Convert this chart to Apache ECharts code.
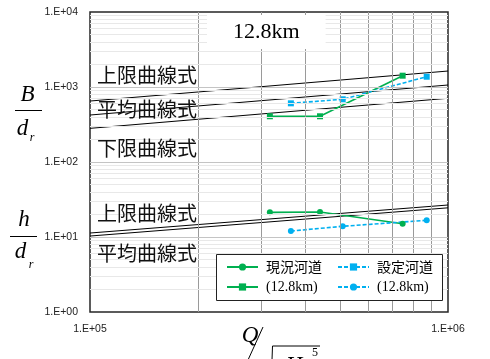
<!DOCTYPE html>
<html><head><meta charset="utf-8">
<script src="https://cdn.jsdelivr.net/npm/echarts@6/dist/echarts.min.js"></script>
<style>html,body{margin:0;padding:0;background:#fff}#c{width:490px;height:359px}</style>
</head><body><div id="c"></div>
<script>
// ---- data ----
const curveX = [1e5, 1e6];
const upperB = [650, 1633];
const meanB  = [423, 1063];
const lowerB = [281, 707];
const upperH = [11.3, 26.7];
const meanH  = [10.3, 24.5];

const curX = [3.18e5, 4.39e5, 7.47e5];
const curB = [407, 407, 1415];
const curH = [21.3, 21.5, 15.0];
const setX = [3.64e5, 5.08e5, 8.72e5];
const setB = [606, 686, 1371];
const setH = [12.0, 13.9, 16.7];

const xTickLabels = {5: '1.E+05', 6: '1.E+06'};
const yTickLabels = ['1.E+00', '1.E+01', '1.E+02', '1.E+03', '1.E+04'];
const minorSteps = [2, 3, 4, 5, 6, 7, 8, 9];
const xDecades = [1e5];
const yDecades = [1, 10, 100, 1000];
const curveLabelTexts = ['上限曲線式', '平均曲線式', '下限曲線式', '上限曲線式', '平均曲線式'];
const legendLabels = {cur_h: '現況河道', set_B: '設定河道', cur_B: '(12.8km)', set_h: '(12.8km)'};
const titleText = '12.8km';

// ---- helpers ----
const zip = (xs, ys) => xs.map((x, i) => [x, ys[i]]);
const GREEN = '#00B050', BLUE = '#00B0F0';

const gridLines = [];
xDecades.forEach(d => minorSteps.forEach(m => gridLines.push({xAxis: d * m, lineStyle: {color: '#9a9a9a', width: 1, type: 'solid'}})));
yDecades.forEach((d, i) => {
  if (i > 0) gridLines.push({yAxis: d, lineStyle: {color: '#c4c4c4', width: 1, type: 'solid'}});
  minorSteps.forEach(m => gridLines.push({yAxis: d * m, lineStyle: {color: '#e8e8e8', width: 1, type: 'solid'}}));
});

const curveSeries = (name, ys) => ({
  name, type: 'line', data: zip(curveX, ys), symbol: 'none', silent: true, z: 3,
  lineStyle: {color: '#000', width: 1}, clip: false
});
const dataSeries = (name, xs, ys, color, sym, dashed) => ({
  name, type: 'line', data: zip(xs, ys), symbol: sym, symbolSize: 6, z: 4,
  itemStyle: {color}, lineStyle: {color, width: 1.6, type: dashed ? [4, 2] : 'solid'}
});

const legendText = {
  formatter: n => legendLabels[n].startsWith('(') ? '{s|' + legendLabels[n] + '}' : '{j|' + legendLabels[n] + '}',
  textStyle: {
    padding: [0, 0, 0, 3],
    rich: {
      j: {fontFamily: 'Noto Sans CJK JP', fontSize: 14, color: '#000', lineHeight: 14},
      s: {fontFamily: 'Liberation Serif', fontSize: 14, color: '#000', lineHeight: 14}
    }
  }
};

const italic = (text, x, y, size) => ({
  type: 'text', x, y, z: 10,
  style: {text, fill: '#000', font: 'italic ' + size + 'px "Liberation Serif"', textAlign: 'center', textVerticalAlign: 'middle'}
});
const hline = (x1, x2, y) => ({type: 'line', z: 10, shape: {x1, y1: y, x2, y2: y}, style: {stroke: '#000', lineWidth: 1}});
const curveLabelY = [75, 109.5, 148, 213, 253];

const chart = echarts.init(document.getElementById('c'));
chart.setOption({
  animation: false,
  backgroundColor: '#fff',
  title: {
    text: titleText, left: 207, top: 15, padding: [6, 26, 6, 26], backgroundColor: '#fff', z: 6,
    textStyle: {fontFamily: 'Liberation Serif', fontSize: 22, fontWeight: 'normal', color: '#000'}
  },
  grid: {left: 90, top: 12, width: 358, height: 300, show: true, borderColor: '#262626', borderWidth: 1.5, backgroundColor: 'transparent'},
  xAxis: {
    type: 'log', logBase: 10, min: 1e5, max: 1e6,
    axisLine: {show: false}, axisTick: {show: false}, splitLine: {show: false},
    axisLabel: {margin: 12, fontSize: 10.5, fontFamily: 'Liberation Sans', color: '#222',
      formatter: v => xTickLabels[Math.round(Math.log10(v))] || ''}
  },
  yAxis: {
    type: 'log', logBase: 10, min: 1, max: 1e4,
    axisLine: {show: false}, axisTick: {show: false}, splitLine: {show: false},
    axisLabel: {margin: 12, fontSize: 10.5, fontFamily: 'Liberation Sans', color: '#222',
      formatter: v => yTickLabels[Math.round(Math.log10(v))] || ''}
  },
  legend: [
    Object.assign({data: ['cur_h', 'cur_B'], orient: 'vertical', left: 226, top: 260, itemWidth: 31, itemHeight: 9, itemGap: 6, padding: 0, z: 8}, legendText),
    Object.assign({data: ['set_B', 'set_h'], orient: 'vertical', left: 337, top: 260, itemWidth: 31, itemHeight: 9, itemGap: 6, padding: 0, z: 8}, legendText)
  ],
  graphic: {elements: [
    {type: 'rect', z: 7, shape: {x: 216.5, y: 254.5, width: 226, height: 46}, style: {fill: '#fff', stroke: '#222', lineWidth: 1}},
    italic('B', 27.5, 95, 23), hline(15, 42, 110.5), italic('d', 22.5, 129, 23), italic('r', 32, 138, 12),
    italic('h', 24, 220, 23), hline(10, 37, 236.5), italic('d', 20.5, 252, 23), italic('r', 31, 265, 12),
    italic('Q', 250, 336, 23),
    {type: 'line', z: 10, shape: {x1: 263, y1: 327, x2: 248, y2: 360}, style: {stroke: '#000', lineWidth: 1}},
    {type: 'polyline', z: 10, shape: {points: [[272, 360], [272.5, 346], [320, 346]]}, style: {stroke: '#000', fill: null, lineWidth: 1}},
    italic('H', 294, 365.5, 23), {type: 'text', x: 315, y: 353, z: 10, style: {text: '5', fill: '#000', font: '12px "Liberation Serif"', textAlign: 'center', textVerticalAlign: 'middle'}}
  ].concat(curveLabelTexts.map((t, i) => ({
    type: 'text', x: 97, y: curveLabelY[i], z: 10,
    style: {text: t, fill: '#111', font: '20px "Noto Sans CJK JP"', textAlign: 'left', textVerticalAlign: 'middle'}
  })))},
  series: [
    {name: 'grid', type: 'line', data: [], z: 1, silent: true,
     markLine: {silent: true, symbol: ['none', 'none'], label: {show: false}, animation: false, data: gridLines}},
    curveSeries('upperB', upperB), curveSeries('meanB', meanB), curveSeries('lowerB', lowerB),
    curveSeries('upperH', upperH), curveSeries('meanH', meanH),
    dataSeries('cur_B', curX, curB, GREEN, 'rect', false),
    dataSeries('set_B', setX, setB, BLUE, 'rect', true),
    dataSeries('cur_h', curX, curH, GREEN, 'circle', false),
    dataSeries('set_h', setX, setH, BLUE, 'circle', true)
  ]
});
</script></body></html>
